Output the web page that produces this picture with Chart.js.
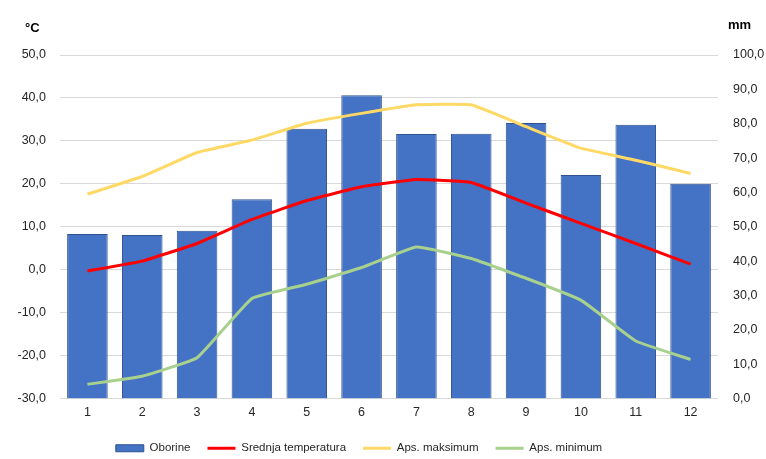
<!DOCTYPE html>
<html lang="hr">
<head>
  <meta charset="UTF-8" />
  <title>Klimadijagram</title>
  <script src="https://cdn.jsdelivr.net/npm/chart.js"></script>
  <style>
    html, body { margin: 0; padding: 0; background: #fff; }
    .wrap { position: relative; width: 766px; height: 459px; }
  </style>
</head>
<body>
  <div class="wrap">
    <canvas id="chart" width="766" height="459"></canvas>
  </div>

  <script>
    // mjeseci
    const months = ["1", "2", "3", "4", "5", "6", "7", "8", "9", "10", "11", "12"];
    // oborine (mm) - desna os
    const oborine = [47.9, 47.6, 48.8, 58.0, 78.5, 88.3, 77.0, 77.1, 80.2, 65.1, 79.7, 62.5];
    // temperature (°C) - lijeva os
    const srednja = [-0.3, 2.0, 6.1, 11.7, 16.1, 19.3, 21.0, 20.3, 15.5, 10.8, 6.1, 1.3];
    const apsMax = [17.6, 21.7, 27.3, 30.2, 34.1, 36.4, 38.4, 38.4, 33.3, 28.3, 25.5, 22.4];
    const apsMin = [-26.7, -24.8, -20.5, -6.7, -3.4, 0.5, 5.3, 2.6, -2.0, -7.1, -16.6, -20.9];

    const fmt = (v) => Number(v).toFixed(1).replace(".", ",");
    const font = { family: "'Liberation Sans', Arial, sans-serif", size: 12.5 };
    const textColor = "#262626";

    // jedinice iznad osi
    const unitLabels = {
      id: "unitLabels",
      afterDraw(chart) {
        const ctx = chart.ctx;
        ctx.save();
        ctx.fillStyle = "#000";
        ctx.font = "bold 13px 'Liberation Sans', Arial, sans-serif";
        ctx.textBaseline = "middle";
        ctx.textAlign = "left";
        ctx.fillText("°C", 25, 28);
        ctx.fillText("mm", 728, 25);
        ctx.restore();
      }
    };

    // legenda je u originalu malo lijevo i niže
    const legendShift = {
      id: "legendShift",
      afterLayout(chart) {
        const l = chart.legend;
        l.left -= 30; l.right -= 30;
        l.top += 5; l.bottom += 5;
      }
    };

    new Chart(document.getElementById("chart"), {
      data: {
        labels: months,
        datasets: [
          {
            type: "bar",
            label: "Oborine",
            data: oborine,
            yAxisID: "yR",
            backgroundColor: "#4472C4",
            borderColor: "#2F528F",
            borderWidth: 1,
            barPercentage: 0.74,
            categoryPercentage: 1,
            pointStyle: "rect",
            order: 2
          },
          {
            type: "line",
            label: "Srednja temperatura",
            data: srednja,
            yAxisID: "yL",
            borderColor: "#FF0000",
            backgroundColor: "#FF0000",
            borderWidth: 3,
            pointRadius: 0,
            tension: 0.1,
            pointStyle: "line",
            order: 1
          },
          {
            type: "line",
            label: "Aps. maksimum",
            data: apsMax,
            yAxisID: "yL",
            borderColor: "#FFD966",
            backgroundColor: "#FFD966",
            borderWidth: 3,
            pointRadius: 0,
            tension: 0.1,
            pointStyle: "line",
            order: 1
          },
          {
            type: "line",
            label: "Aps. minimum",
            data: apsMin,
            yAxisID: "yL",
            borderColor: "#A9D18E",
            backgroundColor: "#A9D18E",
            borderWidth: 3,
            pointRadius: 0,
            tension: 0.1,
            pointStyle: "line",
            order: 1
          }
        ]
      },
      options: {
        responsive: false,
        animation: false,
        layout: { padding: { top: 55, left: 12, right: 0, bottom: 0 } },
        plugins: {
          tooltip: { enabled: false },
          legend: {
            position: "bottom",
            labels: {
              usePointStyle: true,
              pointStyleWidth: 28,
              boxHeight: 7,
              padding: 17,
              color: textColor,
              font: { family: font.family, size: 11.5 },
              sort: (a, b) => a.datasetIndex - b.datasetIndex
            }
          }
        },
        scales: {
          x: {
            grid: { display: false, drawTicks: false },
            border: { display: false },
            ticks: { color: textColor, font: font, padding: 7 },
            afterFit(scale) { scale.height = 22; }
          },
          yL: {
            position: "left",
            min: -30,
            max: 50,
            ticks: { stepSize: 10, color: textColor, font: font, padding: 14, callback: fmt },
            grid: { color: "#D9D9D9", drawTicks: false },
            border: { display: false },
            afterFit(scale) { scale.width = 48; }
          },
          yR: {
            position: "right",
            min: 0,
            max: 100,
            ticks: { stepSize: 10, color: textColor, font: font, padding: 15, callback: fmt },
            grid: { display: false, drawTicks: false },
            border: { display: false },
            afterFit(scale) { scale.width = 48; }
          }
        }
      },
      plugins: [unitLabels, legendShift]
    });
  </script>
</body>
</html>
